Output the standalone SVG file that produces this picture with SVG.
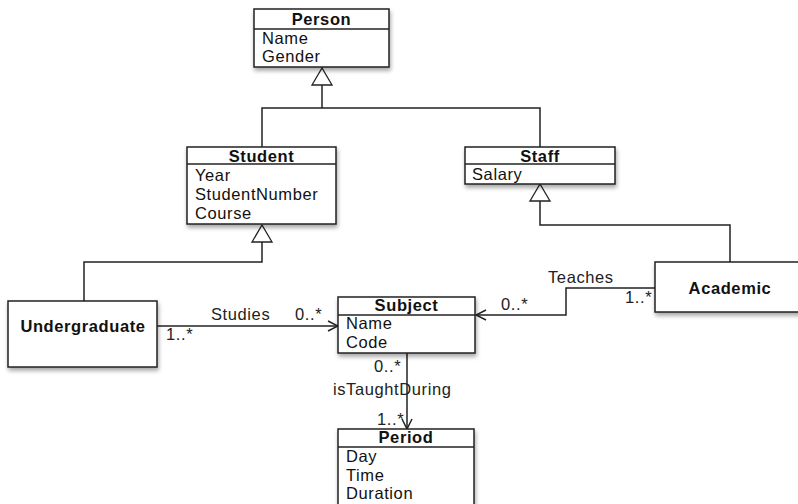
<svg xmlns="http://www.w3.org/2000/svg" width="798" height="504" viewBox="0 0 798 504">
<defs>
<filter id="sh" x="-10%" y="-10%" width="130%" height="140%">
<feDropShadow dx="1" dy="3" stdDeviation="2" flood-color="#000" flood-opacity="0.35"/>
</filter>
<marker id="open" viewBox="0 0 12 12" refX="11" refY="6" markerWidth="12" markerHeight="12" markerUnits="userSpaceOnUse" orient="auto">
<path d="M1,1 L11,6 L1,11" fill="none" stroke="#222" stroke-width="1.5"/>
</marker>
</defs>
<style>
.box{fill:#fff;stroke:#222;stroke-width:1.5}
.div{stroke:#222;stroke-width:1.5}
.t{font-family:"Liberation Sans",Arial,sans-serif;font-size:16.5px;letter-spacing:0.6px;font-weight:bold;fill:#111;text-anchor:middle}
.a{font-family:"Liberation Sans",Arial,sans-serif;font-size:16.5px;letter-spacing:0.6px;fill:#111}
.l{font-family:"Liberation Sans",Arial,sans-serif;font-size:16.5px;letter-spacing:0.6px;fill:#222}
.c{fill:none;stroke:#222;stroke-width:1.5}
.g{fill:#fff;stroke:#222;stroke-width:1.3}
</style>
<rect width="798" height="504" fill="#fff"/>
<g id="connectors">
<polyline class="c" points="262,242 262,262 84,262 84,301"/>
<polyline class="c" points="322,108 322,85"/>
<polyline class="c" points="262,147 262,108 540,108 540,147"/>
<polyline class="c" points="730,262 730,225 540,225 540,201"/>
<path class="g" d="M322,85 L312,85 L322,68 L332,85 Z"/>
<path class="g" d="M262,242 L252,242 L262,225 L272,242 Z"/>
<path class="g" d="M540,201 L530,201 L540,184 L550,201 Z"/>
<line class="c" x1="157" y1="326" x2="338" y2="326" marker-end="url(#open)"/>
<polyline class="c" points="655,288 566,288 566,315 476,315" marker-end="url(#open)"/>
<line class="c" x1="407" y1="353" x2="407" y2="429" marker-end="url(#open)"/>
<text class="l" x="211" y="320">Studies</text>
<text class="l" x="295" y="320">0..*</text>
<text class="l" x="166" y="340">1..*</text>
<text class="l" x="548" y="283">Teaches</text>
<text class="l" x="501" y="310">0..*</text>
<text class="l" x="625" y="303">1..*</text>
<text class="l" x="374" y="372">0..*</text>
<text class="l" x="333" y="395">isTaughtDuring</text>
<text class="l" x="377" y="425">1..*</text>
</g>
<g id="person">
<rect class="box" x="254" y="9" width="135" height="58" filter="url(#sh)"/>
<line class="div" x1="254" y1="29" x2="389" y2="29"/>
<text class="t" x="321.5" y="25">Person</text>
<text class="a" x="262" y="44">Name</text>
<text class="a" x="262" y="62">Gender</text>
</g>
<g id="student">
<rect class="box" x="187" y="147" width="149" height="77" filter="url(#sh)"/>
<line class="div" x1="187" y1="164" x2="336" y2="164"/>
<text class="t" x="261.5" y="162">Student</text>
<text class="a" x="195" y="181">Year</text>
<text class="a" x="195" y="200">StudentNumber</text>
<text class="a" x="195" y="219">Course</text>
</g>
<g id="staff">
<rect class="box" x="465" y="147" width="150" height="37" filter="url(#sh)"/>
<line class="div" x1="465" y1="164" x2="615" y2="164"/>
<text class="t" x="540" y="162">Staff</text>
<text class="a" x="472" y="180">Salary</text>
</g>
<g id="undergraduate">
<rect class="box" x="8" y="301" width="149" height="66" filter="url(#sh)"/>
<text class="t" x="83" y="332">Undergraduate</text>
</g>
<g id="academic">
<rect class="box" x="655" y="262" width="150" height="50" filter="url(#sh)"/>
<text class="t" x="730" y="294">Academic</text>
</g>
<g id="subject">
<rect class="box" x="338" y="297" width="137" height="56" filter="url(#sh)"/>
<line class="div" x1="338" y1="315" x2="475" y2="315"/>
<text class="t" x="406.5" y="311">Subject</text>
<text class="a" x="346" y="329">Name</text>
<text class="a" x="346" y="348">Code</text>
</g>
<g id="period">
<rect class="box" x="338" y="429" width="136" height="90" filter="url(#sh)"/>
<line class="div" x1="338" y1="447" x2="474" y2="447"/>
<text class="t" x="406" y="443">Period</text>
<text class="a" x="346" y="462">Day</text>
<text class="a" x="346" y="481">Time</text>
<text class="a" x="346" y="499">Duration</text>
</g>
</svg>
